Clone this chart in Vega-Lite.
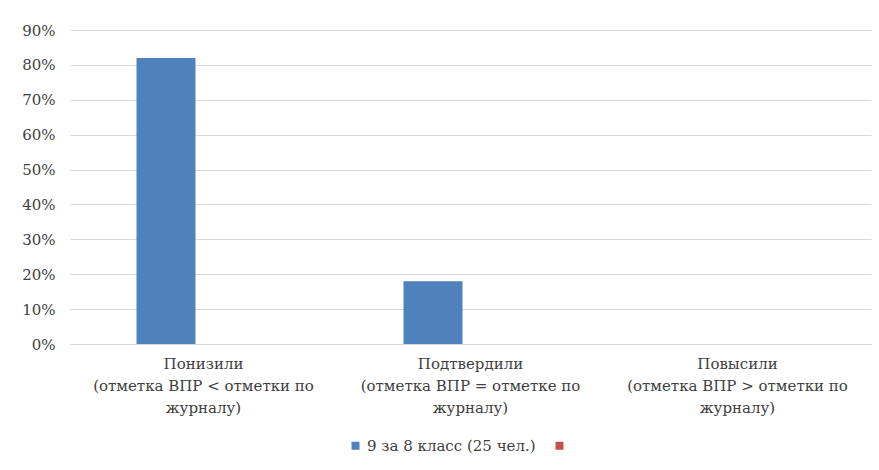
{
  "$schema": "https://vega.github.io/schema/vega-lite/v6.json",
  "width": 801,
  "height": 314,
  "autosize": "none",
  "padding": {"left": 70, "top": 30, "right": 8, "bottom": 126},
  "background": "white",
  "config": {
    "view": {"stroke": null},
    "font": "DejaVu Serif",
    "axis": {"labelFont": "DejaVu Serif", "labelFontSize": 15, "labelColor": "#404040"},
    "legend": {"labelFont": "DejaVu Serif", "labelFontSize": 15, "labelColor": "#404040"}
  },
  "data": {
    "values": [
      {"cat": "Понизили\n(отметка ВПР < отметки по\nжурналу)", "series": "9 за 8 класс (25 чел.)", "value": 0.82},
      {"cat": "Подтвердили\n(отметка ВПР = отметке по\nжурналу)", "series": "9 за 8 класс (25 чел.)", "value": 0.18},
      {"cat": "Повысили\n(отметка ВПР > отметки по\nжурналу)", "series": "9 за 8 класс (25 чел.)", "value": 0}
    ]
  },
  "mark": {"type": "bar"},
  "encoding": {
    "x": {
      "field": "cat",
      "type": "nominal",
      "sort": null,
      "scale": {"paddingInner": 0, "paddingOuter": 0},
      "axis": {
        "title": null,
        "labelAngle": 0,
        "labelExpr": "split(datum.label, '\\n')",
        "labelLineHeight": 22,
        "labelPadding": 12,
        "labelLimit": 0,
        "ticks": false,
        "domain": true,
        "domainColor": "#d9d9d9",
        "domainWidth": 1
      }
    },
    "xOffset": {
      "field": "series",
      "type": "nominal",
      "scale": {"domain": ["9 за 8 класс (25 чел.)", " "], "paddingInner": 0.2133, "paddingOuter": 0.8867}
    },
    "y": {
      "field": "value",
      "type": "quantitative",
      "scale": {"domain": [0, 0.9], "nice": false},
      "axis": {
        "title": null,
        "format": ".0%",
        "values": [0, 0.1, 0.2, 0.3, 0.4, 0.5, 0.6, 0.7, 0.8, 0.9],
        "grid": true,
        "gridColor": "#d9d9d9",
        "domain": false,
        "ticks": false,
        "labelPadding": 15
      }
    },
    "color": {
      "field": "series",
      "type": "nominal",
      "scale": {"domain": ["9 за 8 класс (25 чел.)", " "], "range": ["#4F81BD", "#C0504D"]},
      "legend": {
        "title": null,
        "orient": "none",
        "legendX": 278,
        "legendY": 408,
        "direction": "horizontal",
        "symbolType": "square",
        "symbolSize": 64,
        "symbolStrokeWidth": 0,
        "labelOffset": 4,
        "columnPadding": 16,
        "labelLimit": 0
      }
    }
  }
}
